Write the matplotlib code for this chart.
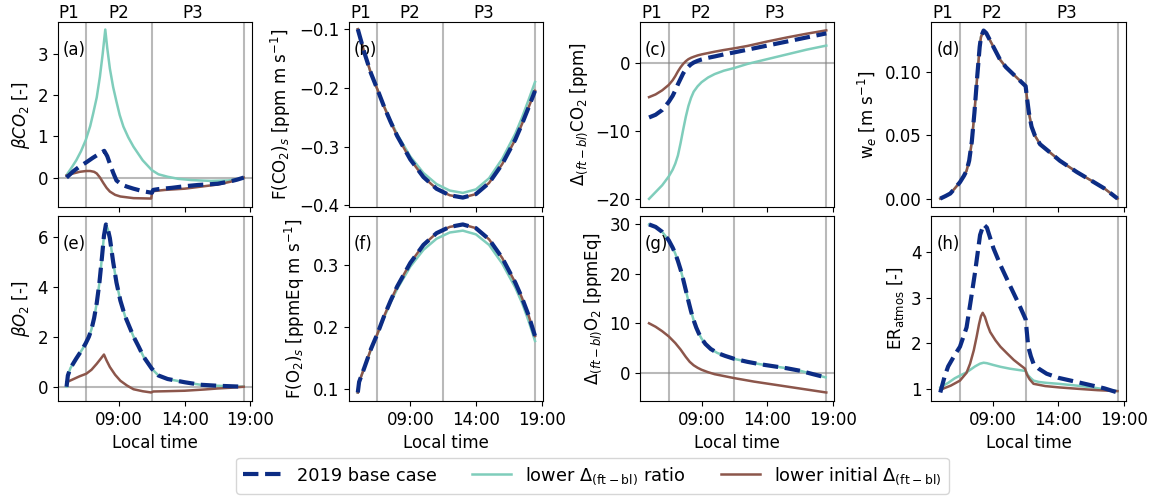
import matplotlib
matplotlib.use("Agg")
import matplotlib.pyplot as plt
import matplotlib.transforms as mtransforms
from matplotlib.ticker import FuncFormatter

# ---------------- data (local time in hours) ----------------
# (a) beta CO2
t_a_base = [5.0, 5.5, 6.0, 6.5, 7.0, 7.5, 7.87, 8.1, 8.3, 8.55, 8.8, 9.2, 9.6, 10.1, 10.8, 11.5, 11.6, 12.0, 13.0, 14.0, 15.0, 16.0, 16.5, 17.0, 17.5, 18.0, 18.5]
a_base = [0.0, 0.15, 0.27, 0.37, 0.48, 0.58, 0.65, 0.52, 0.34, 0.12, -0.07, -0.17, -0.22, -0.27, -0.33, -0.37, -0.30, -0.28, -0.25, -0.21, -0.18, -0.16, -0.15, -0.12, -0.09, -0.05, 0.0]
t_a_ratio = [5.0, 5.4, 5.74, 6.1, 6.46, 6.8, 7.03, 7.3, 7.54, 7.75, 7.95, 8.1, 8.3, 8.55, 8.8, 9.05, 9.33, 9.7, 10.1, 10.8, 11.5, 12.0, 12.7, 13.5, 14.5, 15.2, 16.0, 17.3, 18.0, 18.5]
a_ratio = [0.06, 0.25, 0.42, 0.64, 0.91, 1.25, 1.56, 1.95, 2.45, 3.0, 3.6, 3.15, 2.65, 2.2, 1.85, 1.52, 1.24, 0.98, 0.75, 0.42, 0.18, 0.08, 0.02, -0.03, -0.06, -0.07, -0.08, -0.07, -0.04, 0.0]
t_a_init = [5.0, 5.5, 6.0, 6.5, 6.8, 7.1, 7.3, 7.55, 7.8, 8.05, 8.3, 8.7, 9.1, 9.6, 10.1, 10.8, 11.45, 11.5, 11.6, 12.5, 14.0, 15.0, 16.5, 17.5, 18.5]
a_init = [0.05, 0.10, 0.14, 0.16, 0.16, 0.14, 0.10, 0.0, -0.13, -0.25, -0.34, -0.42, -0.46, -0.48, -0.50, -0.505, -0.51, -0.40, -0.33, -0.30, -0.27, -0.23, -0.17, -0.10, 0.0]

# (b) F(CO2)s
t_b = [5.0, 5.5, 6.0, 6.5, 7.0, 7.5, 8.0, 9.0, 10.0, 11.0, 12.0, 13.0, 14.0, 15.0, 16.0, 17.0, 17.5, 18.0, 18.5]
b_base = [-0.100, -0.140, -0.175, -0.203, -0.232, -0.258, -0.282, -0.322, -0.352, -0.372, -0.383, -0.387, -0.381, -0.362, -0.330, -0.288, -0.262, -0.234, -0.205]
b_ratio = [-0.100, -0.140, -0.175, -0.203, -0.231, -0.256, -0.279, -0.317, -0.345, -0.364, -0.375, -0.379, -0.373, -0.354, -0.321, -0.278, -0.251, -0.221, -0.190]
b_init = [-0.100, -0.140, -0.175, -0.203, -0.232, -0.258, -0.282, -0.322, -0.352, -0.372, -0.383, -0.387, -0.381, -0.362, -0.330, -0.288, -0.262, -0.234, -0.205]

# (c) Delta(ft-bl) CO2
t_c = [5.0, 5.5, 6.0, 6.5, 6.8, 7.0, 7.2, 7.4, 7.6, 7.8, 8.0, 8.2, 8.4, 8.7, 9.0, 9.5, 10.0, 10.7, 11.5, 12.5, 14.0, 15.5, 17.0, 18.5]
c_base = [-8.0, -7.6, -6.9, -5.7, -4.8, -4.0, -3.1, -2.3, -1.5, -0.9, -0.5, -0.15, 0.1, 0.35, 0.55, 0.8, 1.0, 1.3, 1.6, 2.0, 2.6, 3.2, 3.8, 4.4]
c_ratio = [-20.0, -19.0, -18.0, -16.7, -15.7, -14.8, -13.6, -11.8, -9.8, -7.9, -6.3, -5.1, -4.2, -3.4, -2.8, -2.1, -1.6, -1.1, -0.7, -0.1, 0.6, 1.3, 2.0, 2.6]
c_init = [-5.0, -4.6, -4.0, -3.2, -2.5, -1.9, -1.2, -0.6, -0.1, 0.3, 0.6, 0.8, 0.95, 1.15, 1.3, 1.5, 1.7, 1.95, 2.2, 2.55, 3.2, 3.8, 4.35, 4.85]

# (d) entrainment velocity w_e
t_d = [5.0, 5.4, 5.76, 6.1, 6.5, 6.8, 7.0, 7.2, 7.4, 7.6, 7.8, 8.0, 8.1, 8.3, 8.5, 8.8, 9.2, 9.55, 10.0, 10.5, 11.0, 11.5, 11.6, 11.75, 11.95, 12.2, 12.6, 13.3, 14.1, 15.4, 16.7, 17.5, 18.0, 18.5]
d_base = [0.000, 0.002, 0.004, 0.008, 0.013, 0.018, 0.022, 0.030, 0.045, 0.068, 0.095, 0.120, 0.128, 0.133, 0.131, 0.125, 0.117, 0.110, 0.104, 0.099, 0.094, 0.089, 0.080, 0.068, 0.057, 0.050, 0.043, 0.037, 0.030, 0.021, 0.013, 0.008, 0.004, 0.000]

# (e) beta O2
t_e = [5.0, 5.1, 5.3, 5.74, 6.2, 6.46, 6.7, 6.9, 7.1, 7.3, 7.5, 7.7, 7.85, 8.0, 8.15, 8.3, 8.55, 8.8, 9.1, 9.46, 10.1, 10.5, 10.87, 11.5, 12.0, 12.7, 14.0, 15.2, 16.5, 17.5, 18.5]
e_base = [0.0, 0.45, 0.75, 1.13, 1.5, 1.74, 2.0, 2.3, 2.75, 3.35, 4.15, 5.2, 6.05, 6.5, 6.3, 5.95, 5.0, 4.18, 3.45, 2.82, 2.01, 1.6, 1.2, 0.72, 0.45, 0.31, 0.18, 0.08, 0.04, 0.02, 0.0]
e_ratio = [0.0, 0.45, 0.75, 1.13, 1.5, 1.74, 2.0, 2.3, 2.75, 3.35, 4.15, 5.2, 6.05, 6.5, 6.3, 5.95, 5.0, 4.18, 3.45, 2.82, 2.01, 1.6, 1.2, 0.72, 0.45, 0.31, 0.18, 0.08, 0.04, 0.02, 0.0]
t_e_init = [5.0, 5.5, 6.0, 6.5, 6.9, 7.3, 7.6, 7.85, 8.05, 8.3, 8.7, 9.1, 9.6, 10.1, 10.8, 11.45, 11.6, 12.5, 14.0, 15.5, 16.5, 17.5, 18.5]
e_init = [0.18, 0.30, 0.42, 0.52, 0.68, 0.92, 1.12, 1.29, 1.05, 0.79, 0.48, 0.24, 0.05, -0.10, -0.18, -0.23, -0.19, -0.18, -0.16, -0.11, -0.07, -0.04, 0.0]

# (f) F(O2)s
t_f = [5.0, 5.1, 5.5, 6.0, 6.5, 7.0, 7.5, 8.0, 9.0, 10.0, 11.0, 12.0, 13.0, 14.0, 15.0, 16.0, 17.0, 17.5, 18.0, 18.5]
f_base = [0.095, 0.112, 0.135, 0.165, 0.190, 0.218, 0.243, 0.266, 0.304, 0.333, 0.352, 0.362, 0.366, 0.360, 0.342, 0.312, 0.272, 0.248, 0.220, 0.186]
f_ratio = [0.095, 0.112, 0.135, 0.164, 0.189, 0.216, 0.240, 0.262, 0.298, 0.325, 0.343, 0.353, 0.356, 0.350, 0.333, 0.303, 0.264, 0.240, 0.211, 0.178]
f_init = [0.095, 0.112, 0.135, 0.165, 0.190, 0.218, 0.243, 0.266, 0.304, 0.333, 0.352, 0.362, 0.366, 0.360, 0.342, 0.312, 0.272, 0.248, 0.220, 0.186]

# (g) Delta(ft-bl) O2
t_g = [5.0, 5.5, 6.0, 6.5, 6.8, 7.0, 7.2, 7.4, 7.6, 7.8, 8.0, 8.2, 8.4, 8.6, 8.8, 9.0, 9.3, 9.7, 10.2, 10.8, 11.5, 12.5, 13.5, 14.5, 15.5, 16.5, 17.5, 18.45]
g_base = [30.0, 29.5, 28.5, 26.8, 25.3, 24.1, 22.6, 20.9, 18.9, 16.7, 14.5, 12.4, 10.6, 9.1, 7.9, 6.9, 5.8, 4.8, 4.0, 3.4, 2.8, 2.2, 1.7, 1.3, 0.9, 0.4, -0.3, -0.94]
g_ratio = [30.0, 29.5, 28.5, 26.8, 25.3, 24.1, 22.6, 20.9, 18.9, 16.7, 14.5, 12.4, 10.6, 9.1, 7.9, 6.9, 5.8, 4.8, 4.0, 3.4, 2.8, 2.2, 1.7, 1.3, 0.9, 0.4, -0.3, -0.94]
t_g_init = [5.0, 5.5, 6.0, 6.5, 7.0, 7.4, 7.8, 8.1, 8.4, 8.7, 9.0, 9.5, 10.0, 11.5, 13.0, 14.5, 16.0, 17.5, 18.5]
g_init = [10.0, 9.3, 8.4, 7.35, 6.0, 4.7, 3.2, 2.2, 1.5, 1.0, 0.6, 0.1, -0.3, -1.1, -1.8, -2.4, -3.0, -3.6, -4.0]

# (h) ER_atmos
t_h = [5.0, 5.35, 5.6, 6.1, 6.5, 7.0, 7.3, 7.65, 8.03, 8.3, 8.55, 9.05, 9.6, 10.3, 11.0, 11.5, 11.7, 11.9, 12.1, 12.5, 13.1, 14.0, 15.4, 16.6, 17.5, 18.5]
h_base = [0.93, 1.30, 1.50, 1.75, 1.93, 2.35, 2.90, 3.56, 4.37, 4.60, 4.53, 4.08, 3.70, 3.27, 2.85, 2.53, 1.93, 1.72, 1.56, 1.45, 1.34, 1.25, 1.16, 1.08, 1.02, 0.93]
h_ratio = [1.04, 1.10, 1.14, 1.24, 1.30, 1.37, 1.43, 1.50, 1.56, 1.58, 1.57, 1.53, 1.49, 1.45, 1.42, 1.40, 1.30, 1.24, 1.19, 1.16, 1.14, 1.12, 1.08, 1.04, 1.00, 0.96]
t_h_init = [5.0, 5.8, 6.5, 7.0, 7.27, 7.55, 7.77, 7.95, 8.1, 8.23, 8.4, 8.6, 8.8, 9.2, 9.58, 10.1, 10.6, 11.0, 11.45, 11.6, 11.8, 12.1, 13.0, 14.1, 15.5, 17.0, 18.5]
h_init = [0.99, 1.08, 1.19, 1.36, 1.56, 1.85, 2.15, 2.42, 2.60, 2.67, 2.58, 2.40, 2.25, 2.07, 1.93, 1.78, 1.64, 1.55, 1.45, 1.32, 1.22, 1.12, 1.07, 1.04, 1.01, 0.98, 0.96]

phase_bounds = [6.5, 11.5, 18.5]
phase_labels = ["P1", "P2", "P3"]
phase_label_pos = [5.2, 8.95, 14.6]
xticks = [9, 14, 19]
panel_letters = ["(a)", "(b)", "(c)", "(d)", "(e)", "(f)", "(g)", "(h)"]
ylabels = [r"$\beta CO_2$ [-]", r"F(CO$_2$)$_s$ [ppm m s$^{-1}$]",
           r"$\Delta_{(ft-bl)}$CO$_2$ [ppm]", r"w$_e$ [m s$^{-1}$]",
           r"$\beta O_2$ [-]", r"F(O$_2$)$_s$ [ppmEq m s$^{-1}$]",
           r"$\Delta_{(ft-bl)}$O$_2$ [ppmEq]", r"ER$_{\rm atmos}$ [-]"]
legend_labels = ["2019 base case", r"lower $\Delta_{\rm (ft-bl)}$ ratio",
                 r"lower initial $\Delta_{\rm (ft-bl)}$"]

# ---------------- styling ----------------
C_BASE = "#0c2c84"
C_RATIO = "#7fcdbb"
C_INIT = "#8c564b"
plt.rcParams["font.size"] = 12

fig, axes = plt.subplots(2, 4, figsize=(11.55, 5.03), dpi=100, sharex=True)
fig.subplots_adjust(left=0.05, right=0.9746, top=0.956, bottom=0.203,
                    wspace=0.50, hspace=0.049)

panels = [
    (axes[0, 0], (t_a_base, a_base), (t_a_ratio, a_ratio), (t_a_init, a_init), True),
    (axes[0, 1], (t_b, b_base), (t_b, b_ratio), (t_b, b_init), False),
    (axes[0, 2], (t_c, c_base), (t_c, c_ratio), (t_c, c_init), True),
    (axes[0, 3], (t_d, d_base), (t_d, d_base), (t_d, d_base), False),
    (axes[1, 0], (t_e, e_base), (t_e, e_ratio), (t_e_init, e_init), True),
    (axes[1, 1], (t_f, f_base), (t_f, f_ratio), (t_f, f_init), False),
    (axes[1, 2], (t_g, g_base), (t_g, g_ratio), (t_g_init, g_init), True),
    (axes[1, 3], (t_h, h_base), (t_h, h_ratio), (t_h_init, h_init), False),
]

handles = None
for i, (ax, base, ratio, init, zero) in enumerate(panels):
    for xb in phase_bounds:
        ax.axvline(xb, color="grey", alpha=0.55, lw=1.5, zorder=1)
    if zero:
        ax.axhline(0, color="grey", alpha=0.55, lw=1.5, zorder=1)
    l2, = ax.plot(ratio[0], ratio[1], color=C_RATIO, lw=1.8, zorder=2)
    l3, = ax.plot(init[0], init[1], color=C_INIT, lw=1.8, zorder=3)
    l1, = ax.plot(base[0], base[1], color=C_BASE, lw=3, ls="--", zorder=4)
    if handles is None:
        handles = [l1, l2, l3]
    ax.set_ylabel(ylabels[i])
    ax.text(0.025, 0.85, panel_letters[i], transform=ax.transAxes,
            ha="left", va="center", fontsize=12)
    ax.set_xticks(xticks)
    ax.xaxis.set_major_formatter(FuncFormatter(lambda v, p: "%02d:00" % int(round(v))))
    if i < 4:
        trans = mtransforms.blended_transform_factory(ax.transData, ax.transAxes)
        for lab, xp in zip(phase_labels, phase_label_pos):
            ax.text(xp, 1.0, lab, transform=trans, ha="center", va="bottom", fontsize=12)
    else:
        ax.set_xlabel("Local time")

axes[0, 0].set_ylim(-0.715, 3.78)
axes[0, 0].set_yticks([0, 1, 2, 3])
axes[0, 1].set_ylim(-0.403, -0.088)
axes[0, 1].set_yticks([-0.4, -0.3, -0.2, -0.1])
axes[0, 2].set_ylim(-21.2, 6.06)
axes[0, 2].set_yticks([-20, -10, 0])
axes[0, 3].set_yticks([0.0, 0.05, 0.10])
axes[0, 3].yaxis.set_major_formatter(FuncFormatter(lambda v, p: "%.2f" % v))
axes[1, 0].set_yticks([0, 2, 4, 6])
axes[1, 1].set_yticks([0.1, 0.2, 0.3])
axes[1, 2].set_yticks([0, 10, 20, 30])
axes[1, 3].set_yticks([1, 2, 3, 4])
axes[0, 0].set_xlim(4.33, 19.12)

fig.legend(handles, legend_labels, loc="center", bbox_to_anchor=(0.513, 0.054),
           ncol=3, fontsize=12.8, handlelength=2.2, columnspacing=2.0)

fig.savefig("out.png", dpi=100)
